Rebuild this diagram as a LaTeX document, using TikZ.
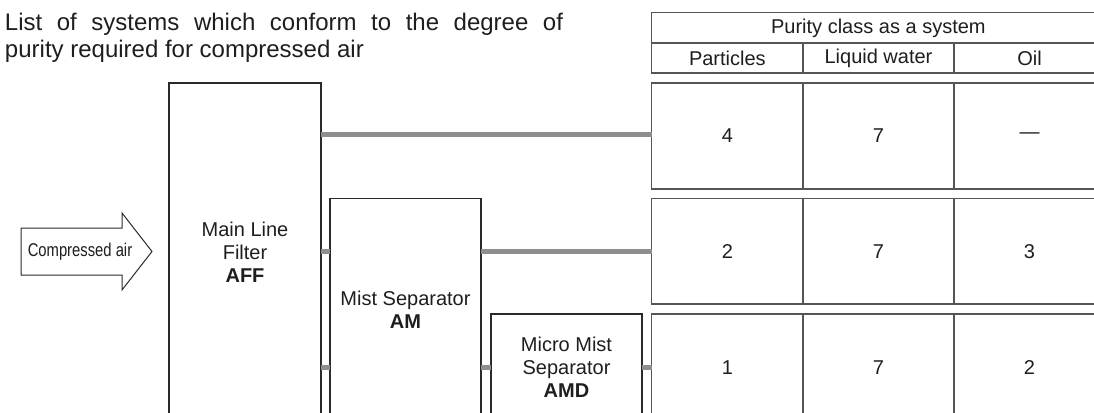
\documentclass[tikz,border=0pt]{standalone}
\usepackage{fontspec}
\setmainfont{Liberation Sans}
\usepackage{graphicx}
\definecolor{txt}{HTML}{1E1E1E}
\definecolor{boxc}{HTML}{2A2A2A}
\definecolor{tabc}{HTML}{555555}
\definecolor{connc}{HTML}{8E8E8E}
\begin{document}
\begin{tikzpicture}[x=1pt,y=-1pt,
  every node/.style={inner sep=0pt, outer sep=0pt, text=txt},
  box/.style={draw=boxc, line width=1.3pt, anchor=north west, fill=white,
    font=\fontsize{20}{23}\selectfont, align=center},
  cell/.style={draw=tabc, line width=1.4pt, anchor=north west, fill=white,
    font=\fontsize{20}{23}\selectfont},
  conn/.style={draw=connc, line width=5pt},
  titletxt/.style={anchor=base west, font=\fontsize{24}{28}\selectfont},
]
\useasboundingbox (0,0) rectangle (1094,412);
\clip (0,0) rectangle (1094,412);

% title
\node[titletxt] (t1) at (5,31) {\makebox[558pt][s]{List of systems which conform to the degree of}};
\node[titletxt] (t2) at (5,57) {purity required for compressed air};

% table header
\node[cell, minimum width=453.3pt, minimum height=30.3pt] (hdr) at (651.7,12.7) {Purity class as a system};
\node[cell, minimum width=151.3pt, minimum height=30pt] (hp) at (651.7,43) {Particles};
\node[cell, minimum width=151pt, minimum height=30pt] (hw) at (803,43) {Liquid water};
\node[cell, minimum width=151pt, minimum height=30pt] (ho) at (954,43) {Oil};

% table rows
\node[cell, minimum width=151.3pt, minimum height=106pt] (r1a) at (651.7,83) {4};
\node[cell, minimum width=151pt, minimum height=106pt] (r1b) at (803,83) {7};
\node[cell, minimum width=151pt, minimum height=106pt] (r1c) at (954,83) {---};

\node[cell, minimum width=151.3pt, minimum height=105.5pt] (r2a) at (651.7,198.5) {2};
\node[cell, minimum width=151pt, minimum height=105.5pt] (r2b) at (803,198.5) {7};
\node[cell, minimum width=151pt, minimum height=105.5pt] (r2c) at (954,198.5) {3};

\node[cell, minimum width=151.3pt, minimum height=107pt] (r3a) at (651.7,314) {1};
\node[cell, minimum width=151pt, minimum height=107pt] (r3b) at (803,314) {7};
\node[cell, minimum width=151pt, minimum height=107pt] (r3c) at (954,314) {2};

% equipment boxes
\node[box, minimum width=152pt, minimum height=338pt] (aff) at (169,83) {Main Line\\Filter\\\textbf{AFF}};
\node[box, minimum width=151pt, minimum height=222.7pt] (am) at (330,198.3) {Mist Separator\\\textbf{AM}};
\node[box, minimum width=151pt, minimum height=107pt] (amd) at (491,314) {Micro Mist\\Separator\\\textbf{AMD}};

% connectors
\draw[conn] ([yshift=1.5pt]aff.east |- r1a.west) -- ([yshift=1.5pt]r1a.west);
\draw[conn] (aff.east |- r2a.west) -- (am.west |- r2a.west);
\draw[conn] (am.east |- r2a.west) -- (r2a.west);
\draw[conn] (aff.east |- r3a.west) -- (am.west |- r3a.west);
\draw[conn] (am.east |- r3a.west) -- (amd.west |- r3a.west);
\draw[conn] (amd.east |- r3a.west) -- (r3a.west);

% input arrow
\draw[draw=boxc, line width=1pt, fill=white, line join=miter]
  (21,228) -- (122,228) -- (122,213) -- (152,251.5) -- (122,290) -- (122,275) -- (21,275) -- cycle;
\node[font=\fontsize{18.5}{20}\selectfont] (air) at (80,252) {\scalebox{0.8}[1]{Compressed air}};
\end{tikzpicture}
\end{document}
